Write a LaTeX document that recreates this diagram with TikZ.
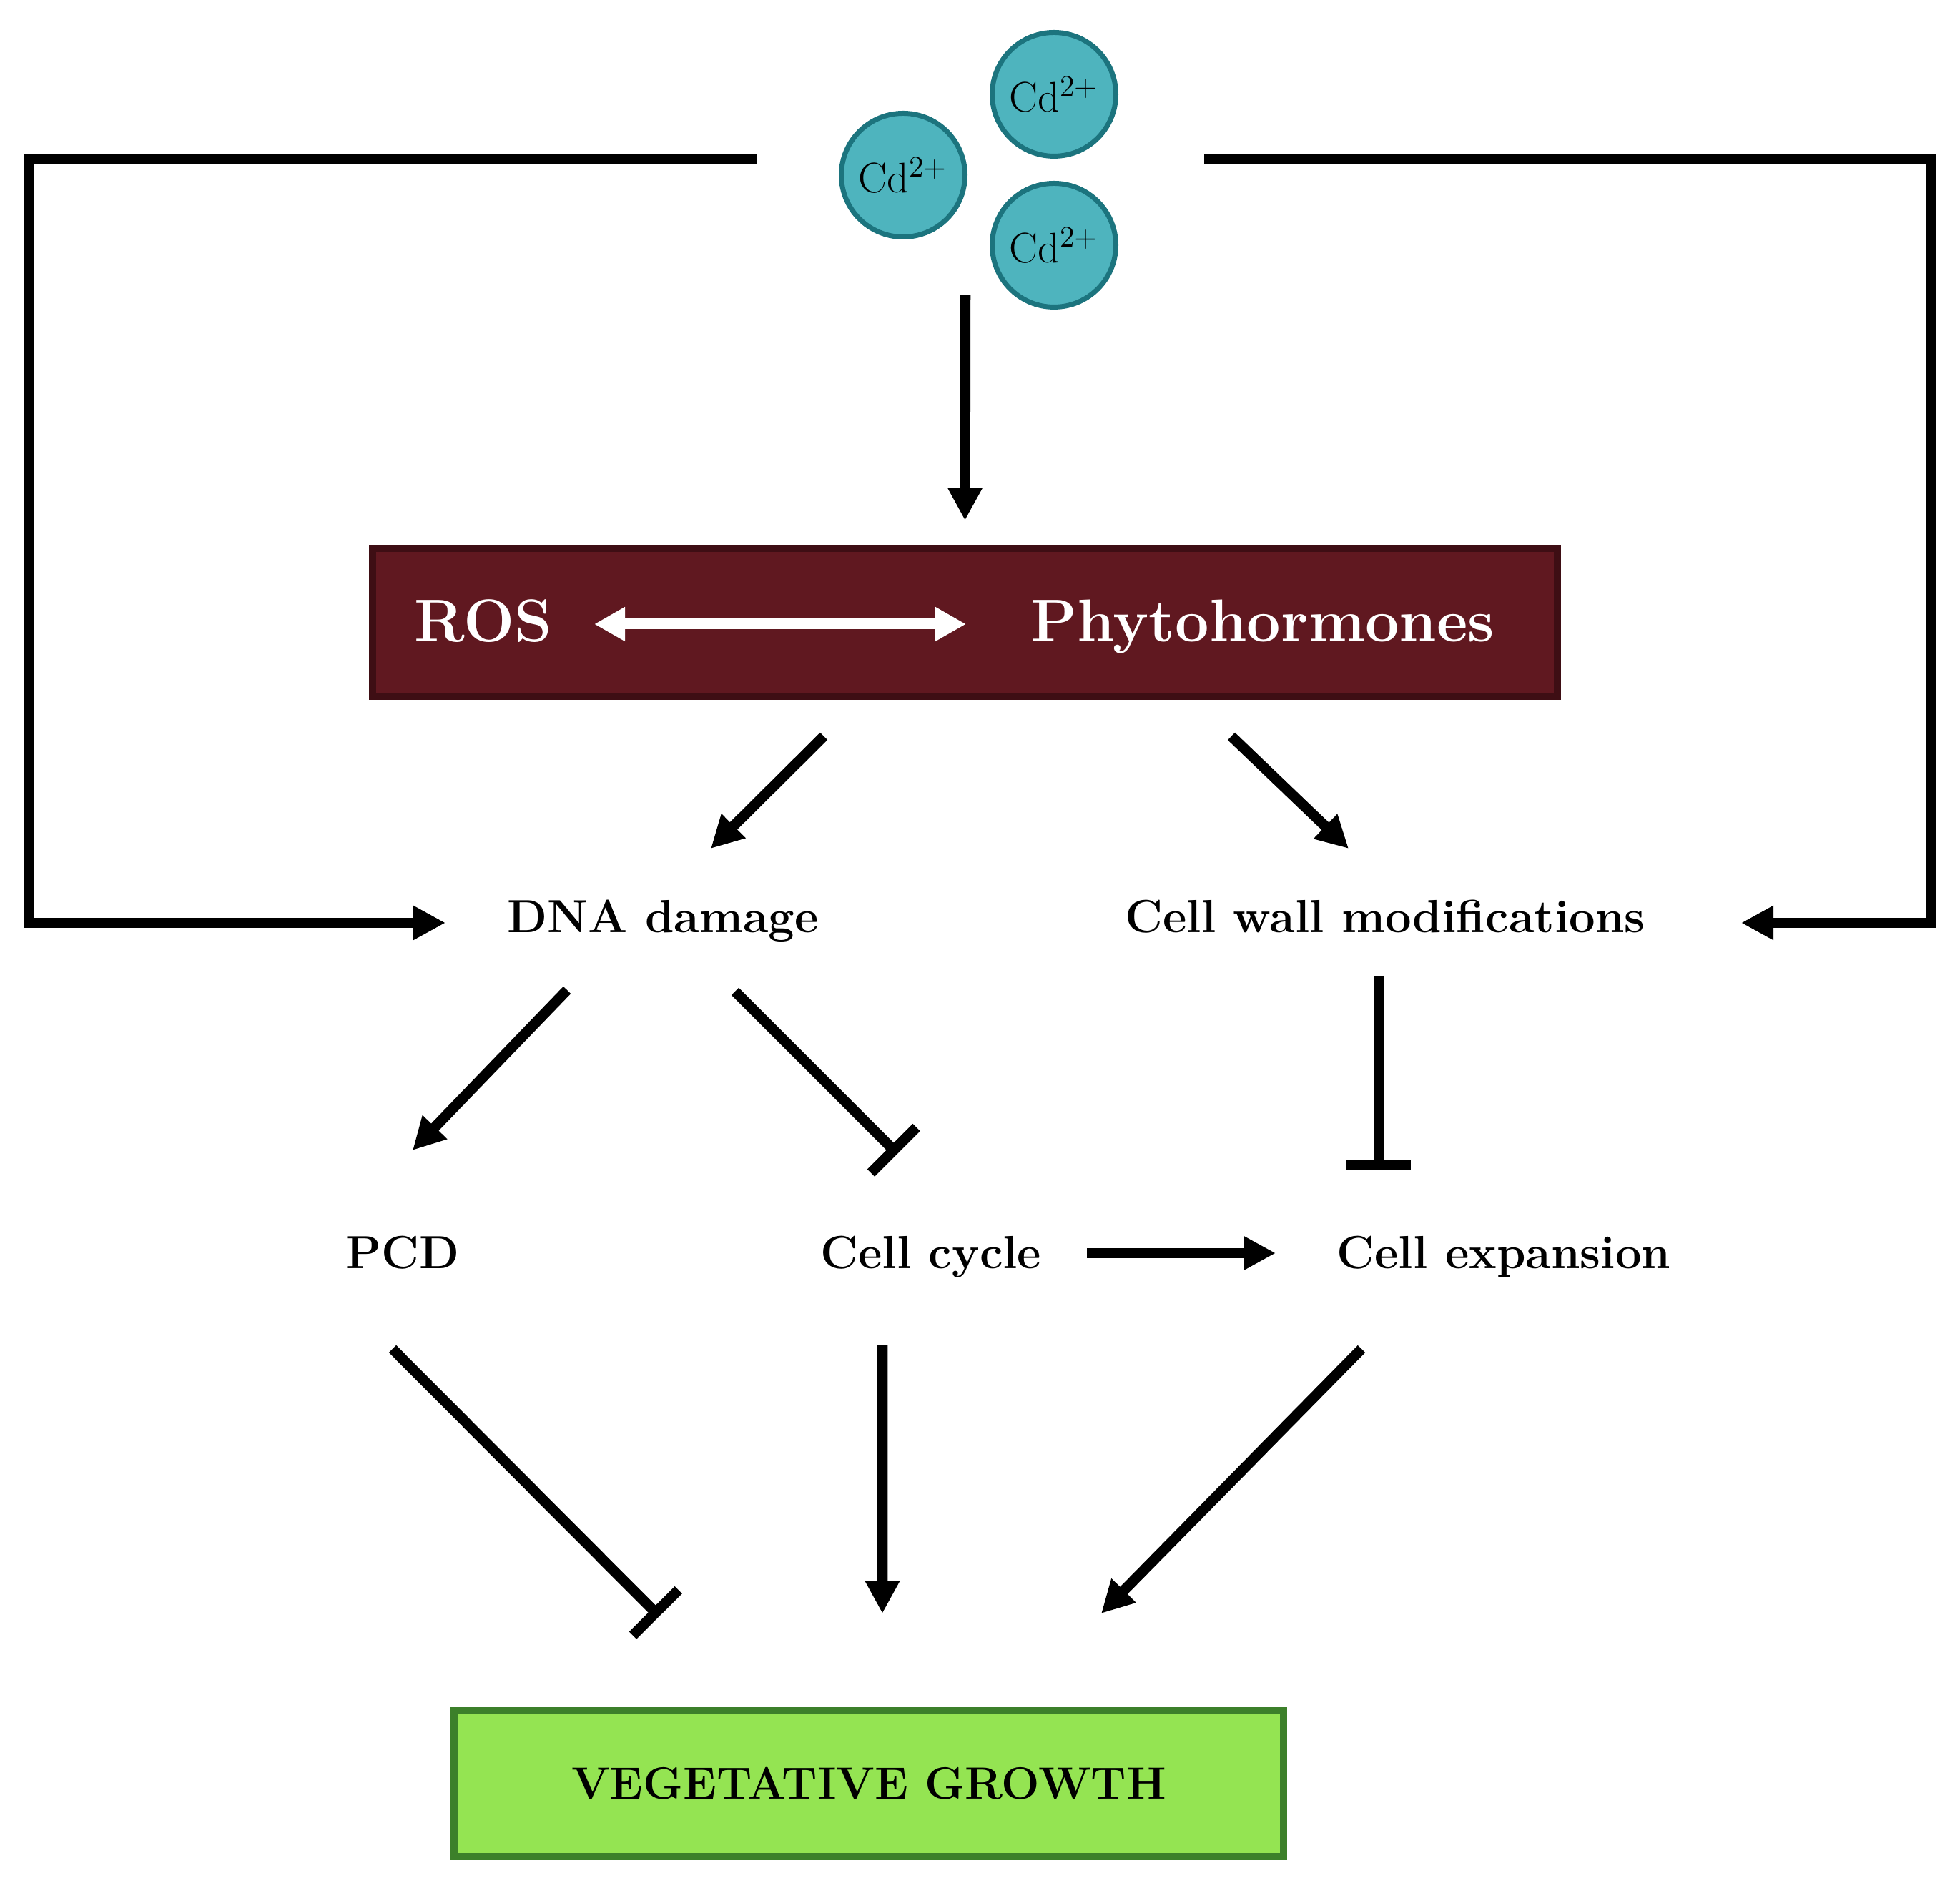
\documentclass[tikz,border=0pt]{standalone}
\usepackage{fontspec}
\usepackage{xcolor}
\usepackage{tikz}
\usetikzlibrary{arrows.meta,positioning,calc}

\definecolor{cdfill}{RGB}{78,180,190}
\definecolor{cdline}{RGB}{28,116,126}
\definecolor{rosfill}{RGB}{96,24,32}
\definecolor{rosline}{RGB}{62,14,20}
\definecolor{vgfill}{RGB}{148,228,82}
\definecolor{vgline}{RGB}{60,128,42}

\tikzset{
    lbl/.style={font=\fontsize{18.5}{22}\selectfont\bfseries, inner sep=0pt, anchor=base},
    ion/.style={circle, fill=cdfill, draw=cdline, line width=0.7mm, minimum size=17.3mm, inner sep=0pt, font=\fontsize{17}{20}\selectfont},
    act/.style={line width=1.45mm, -{Triangle[length=4.5mm,width=4.5mm]}},
    inh/.style={line width=1.45mm, -{Bar[width=9mm]}},
}

\begin{document}
\begin{tikzpicture}
    \useasboundingbox (0,0) rectangle (27.41,26.27);

    % Cd ions
    \node[ion] (cd1) at (12.63,23.82) {Cd\textsuperscript{2+}};
    \node[ion] (cd2) at (14.74,24.95) {Cd\textsuperscript{2+}};
    \node[ion] (cd3) at (14.74,22.84) {Cd\textsuperscript{2+}};

    % ROS / phytohormones box
    \node[fill=rosfill, draw=rosline, line width=1mm, minimum width=16.57cm, minimum height=2.07cm] (rb) at (13.495,17.565) {};
    \node[lbl, white, font=\fontsize{24}{28}\selectfont\bfseries] (ros) at (6.76,17.29) {ROS};
    \node[lbl, white, font=\fontsize{24}{28}\selectfont\bfseries] (phy) at (17.66,17.29) {Phytohormones};
    \draw[white, line width=1.5mm, {Triangle[length=4.3mm,width=4.5mm]}-{Triangle[length=4.3mm,width=4.5mm]}]
        ([shift={(1.55,0.25)}]ros.base) -- ([shift={(-4.15,0.25)}]phy.base);

    % labels
    \node[lbl] (dna) at (9.27,13.22) {DNA damage};
    \node[lbl] (cwm) at (19.37,13.22) {Cell wall modifications};
    \node[lbl] (pcd) at (5.63,8.52) {PCD};
    \node[lbl] (cyc) at (13.02,8.52) {Cell cycle};
    \node[lbl] (exp) at (21.03,8.52) {Cell expansion};

    % growth box
    \node[fill=vgfill, draw=vgline, line width=1mm, minimum width=11.6cm, minimum height=2.04cm,
          font=\fontsize{18}{22}\selectfont\bfseries] (vg) at (12.15,1.32) {VEGETATIVE GROWTH};

    % connectors
    \draw[act] ([shift={(0.87,-1.68)}]cd1.center) -- ([yshift=3.4mm]rb.north);
    \draw[act] ([shift={(-2.04,0.22)}]cd1.center) -- ++(-10.19,0) |- ([shift={(-3.04,0.14)}]dna.base);
    \draw[act] ([shift={(2.10,-0.91)}]cd2.center) -- ++(10.17,0) |- ([shift={(4.98,0.14)}]cwm.base);
    \draw[act] ([shift={(-1.975,-0.51)}]rb.south) -- ([shift={(0.67,1.18)}]dna.base);
    \draw[act] ([shift={(3.725,-0.51)}]rb.south) -- ([shift={(-0.51,1.18)}]cwm.base);
    \draw[act] ([shift={(-1.34,-0.80)}]dna.base) -- ([shift={(0.14,1.66)}]pcd.base);
    \draw[inh] ([shift={(1.01,-0.82)}]dna.base) -- ([shift={(-0.47,1.61)}]cyc.base);
    \draw[inh] ([shift={(-0.09,-0.60)}]cwm.base) -- ([shift={(-1.75,1.38)}]exp.base);
    \draw[act] ([shift={(2.18,0.22)}]cyc.base) -- ([shift={(-3.19,0.22)}]exp.base);
    \draw[inh] ([shift={(-0.14,-1.12)}]pcd.base) -- ([shift={(-2.93,1.27)}]vg.north);
    \draw[act] ([shift={(-0.68,-1.07)}]cyc.base) -- ([shift={(0.19,1.31)}]vg.north);
    \draw[act] ([shift={(-1.99,-1.12)}]exp.base) -- ([shift={(3.25,1.31)}]vg.north);
\end{tikzpicture}
\end{document}
